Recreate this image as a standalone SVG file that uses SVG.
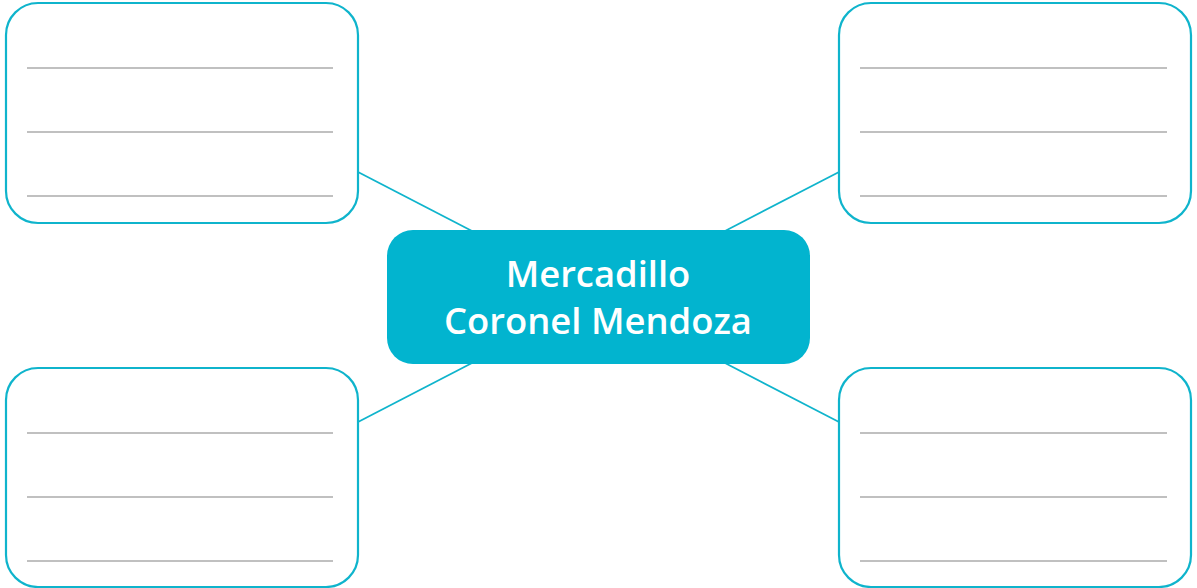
<svg xmlns="http://www.w3.org/2000/svg" width="1197" height="588" viewBox="0 0 1197 588">
<style>
.box{fill:#fff;stroke:#0fb4cc;stroke-width:2.2}
.wl{stroke:#ababab;stroke-width:1.6}
.conn{stroke:#0fb4cc;stroke-width:1.8;fill:none}
.center{fill:#02b4cf}
.t{font-family:"Open Sans","Liberation Sans",sans-serif;font-weight:600;font-size:36.4px;fill:#fff;text-anchor:middle}
</style>
<rect width="1197" height="588" fill="#fff"/>
<g id="connectors">
<line class="conn" x1="358" y1="172" x2="472" y2="231"/>
<line class="conn" x1="839" y1="172" x2="725" y2="231"/>
<line class="conn" x1="472" y1="363" x2="358" y2="422"/>
<line class="conn" x1="725" y1="363" x2="839" y2="422"/>
</g>
<g id="box-tl">
<rect class="box" x="6" y="3" width="352" height="220" rx="32"/>
<line class="wl" x1="27" y1="68" x2="333" y2="68"/>
<line class="wl" x1="27" y1="132" x2="333" y2="132"/>
<line class="wl" x1="27" y1="196" x2="333" y2="196"/>
</g>
<g id="box-tr">
<rect class="box" x="839" y="3" width="352" height="220" rx="32"/>
<line class="wl" x1="860" y1="68" x2="1167" y2="68"/>
<line class="wl" x1="860" y1="132" x2="1167" y2="132"/>
<line class="wl" x1="860" y1="196" x2="1167" y2="196"/>
</g>
<g id="box-bl">
<rect class="box" x="6" y="368" width="352" height="219" rx="32"/>
<line class="wl" x1="27" y1="433" x2="333" y2="433"/>
<line class="wl" x1="27" y1="497" x2="333" y2="497"/>
<line class="wl" x1="27" y1="561" x2="333" y2="561"/>
</g>
<g id="box-br">
<rect class="box" x="839" y="368" width="352" height="219" rx="32"/>
<line class="wl" x1="860" y1="433" x2="1167" y2="433"/>
<line class="wl" x1="860" y1="497" x2="1167" y2="497"/>
<line class="wl" x1="860" y1="561" x2="1167" y2="561"/>
</g>
<g id="center">
<rect class="center" x="387" y="230" width="423" height="134" rx="26"/>
<text class="t" x="598" y="287">Mercadillo</text>
<text class="t" x="598" y="334">Coronel Mendoza</text>
</g>
</svg>
